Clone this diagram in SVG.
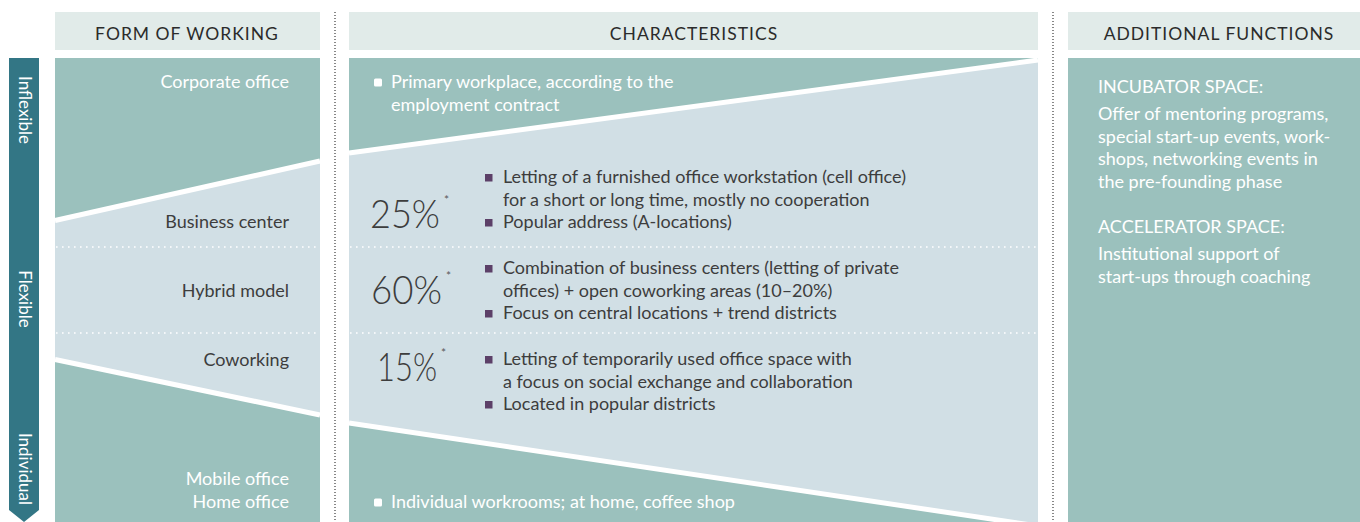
<svg xmlns="http://www.w3.org/2000/svg" width="1360" height="522" viewBox="0 0 1360 522">
  <style>
    .hdr { fill: #e1ebe9; }
    .teal { fill: #9bc1bd; }
    .pale { fill: #d1dfe5; }
    .gap { stroke: #ffffff; stroke-width: 5; fill: none; }
    .rowsep { stroke: #ffffff; stroke-width: 1.6; stroke-dasharray: 1.6 4.4; fill: none; }
    .colsep { stroke: #3a3a3a; stroke-width: 1.2; stroke-dasharray: 1 2; fill: none; }
    text { font-family: Lato, "Open Sans", "Liberation Sans", sans-serif; font-size: 18px; }
    .htxt { fill: #2b2b2b; font-size: 17.5px; letter-spacing: 1px; text-anchor: middle; }
    .dark { fill: #3d3d3d; }
    .light { fill: #ffffff; }
    .right { text-anchor: end; }
    .pct { fill: #3d3d3d; font-size: 40px; font-weight: 300; }
    .star { fill: #5a5a5a; font-size: 12px; font-weight: 400; }
    .axis { fill: #ffffff; font-size: 17px; text-anchor: middle; dominant-baseline: central; }
    .bp { fill: #5c4068; }
    .bw { fill: #ffffff; }
  </style>

  <!-- column headers -->
  <g id="header-form">
    <rect class="hdr" x="55" y="12" width="265" height="38"/>
    <text class="htxt" x="187" y="39.5">FORM OF WORKING</text>
  </g>
  <g id="header-characteristics">
    <rect class="hdr" x="349" y="12" width="689" height="38"/>
    <text class="htxt" x="694" y="39.5">CHARACTERISTICS</text>
  </g>
  <g id="header-additional">
    <rect class="hdr" x="1068" y="12" width="292" height="38"/>
    <text class="htxt" x="1219" y="39.5">ADDITIONAL FUNCTIONS</text>
  </g>

  <!-- flexibility axis -->
  <g id="axis">
    <polygon points="9,58 39,58 39,510 24,522 9,510" fill="#337685"/>
    <text class="axis" transform="translate(25,110) rotate(90)">Inflexible</text>
    <text class="axis" transform="translate(25,299) rotate(90)">Flexible</text>
    <text class="axis" transform="translate(25,469) rotate(90)">Individual</text>
  </g>

  <!-- form of working column -->
  <g id="col-form">
    <rect class="teal" x="55" y="58" width="265" height="464"/>
    <polygon class="pale" points="55,220.5 320,161 320,415 55,359.5"/>
    <line class="gap" x1="55" y1="220.5" x2="320" y2="161"/>
    <line class="gap" x1="55" y1="359.5" x2="320" y2="415"/>
  </g>

  <!-- characteristics column -->
  <g id="col-characteristics">
    <rect class="teal" x="349" y="58" width="689" height="464"/>
    <polygon class="pale" points="349,153 1038,60 1038,526 349,423"/>
    <line class="gap" x1="349" y1="153" x2="1038" y2="60"/>
    <line class="gap" x1="349" y1="423" x2="1038" y2="526"/>
  </g>

  <!-- additional functions column -->
  <g id="col-additional">
    <rect class="teal" x="1068" y="58" width="292" height="464"/>
  </g>

  <!-- separators -->
  <g id="connectors">
    <line class="rowsep" x1="56" y1="247" x2="320" y2="247"/>
    <line class="rowsep" x1="56" y1="333" x2="320" y2="333"/>
    <line class="rowsep" x1="350" y1="247" x2="1038" y2="247"/>
    <line class="rowsep" x1="350" y1="333" x2="1038" y2="333"/>
    <line class="colsep" x1="335" y1="12" x2="335" y2="522"/>
    <line class="colsep" x1="1053" y1="12" x2="1053" y2="522"/>
  </g>

  <!-- row: corporate office -->
  <g id="node-corporate">
    <text class="light right" x="289" y="88">Corporate office</text>
    <rect class="bw" x="374" y="78.5" width="8" height="8" rx="1.5"/>
    <text class="light" x="391" y="88">Primary workplace, according to the</text>
    <text class="light" x="391" y="110.5">employment contract</text>
  </g>

  <!-- row: business center -->
  <g id="node-business">
    <text class="dark right" x="289" y="228">Business center</text>
    <text class="pct" x="370" y="228"><tspan textLength="70" lengthAdjust="spacingAndGlyphs">25%</tspan><tspan class="star" dx="4" dy="-24">*</tspan></text>
    <rect class="bp" x="485" y="174" width="7.5" height="7.5"/>
    <text class="dark" x="503" y="183">Letting of a furnished office workstation (cell office)</text>
    <text class="dark" x="503" y="205.5">for a short or long time, mostly no cooperation</text>
    <rect class="bp" x="485" y="219" width="7.5" height="7.5"/>
    <text class="dark" x="503" y="228">Popular address (A-locations)</text>
  </g>

  <!-- row: hybrid model -->
  <g id="node-hybrid">
    <text class="dark right" x="289" y="297">Hybrid model</text>
    <text class="pct" x="371" y="304"><tspan textLength="71" lengthAdjust="spacingAndGlyphs">60%</tspan><tspan class="star" dx="4" dy="-24">*</tspan></text>
    <rect class="bp" x="485" y="265" width="7.5" height="7.5"/>
    <text class="dark" x="503" y="274">Combination of business centers (letting of private</text>
    <text class="dark" x="503" y="296.5">offices) + open coworking areas (10–20%)</text>
    <rect class="bp" x="485" y="310" width="7.5" height="7.5"/>
    <text class="dark" x="503" y="319">Focus on central locations + trend districts</text>
  </g>

  <!-- row: coworking -->
  <g id="node-coworking">
    <text class="dark right" x="289" y="366">Coworking</text>
    <text class="pct" x="377" y="381"><tspan textLength="60" lengthAdjust="spacingAndGlyphs">15%</tspan><tspan class="star" dx="4" dy="-24">*</tspan></text>
    <rect class="bp" x="485" y="356" width="7.5" height="7.5"/>
    <text class="dark" x="503" y="365">Letting of temporarily used office space with</text>
    <text class="dark" x="503" y="387.5">a focus on social exchange and collaboration</text>
    <rect class="bp" x="485" y="401" width="7.5" height="7.5"/>
    <text class="dark" x="503" y="410">Located in popular districts</text>
  </g>

  <!-- row: mobile / home office -->
  <g id="node-individual">
    <text class="light right" x="289" y="485">Mobile office</text>
    <text class="light right" x="289" y="508">Home office</text>
    <rect class="bw" x="374" y="498.5" width="8" height="8" rx="1.5"/>
    <text class="light" x="391" y="508">Individual workrooms; at home, coffee shop</text>
  </g>

  <!-- additional functions -->
  <g id="node-incubator">
    <text class="light" x="1098" y="93">INCUBATOR SPACE:</text>
    <text class="light" x="1098" y="120">Offer of mentoring programs,</text>
    <text class="light" x="1098" y="142.5">special start-up events, work-</text>
    <text class="light" x="1098" y="165">shops, networking events in</text>
    <text class="light" x="1098" y="187.5">the pre-founding phase</text>
  </g>
  <g id="node-accelerator">
    <text class="light" x="1098" y="233">ACCELERATOR SPACE:</text>
    <text class="light" x="1098" y="260">Institutional support of</text>
    <text class="light" x="1098" y="282.5">start-ups through coaching</text>
  </g>
</svg>
